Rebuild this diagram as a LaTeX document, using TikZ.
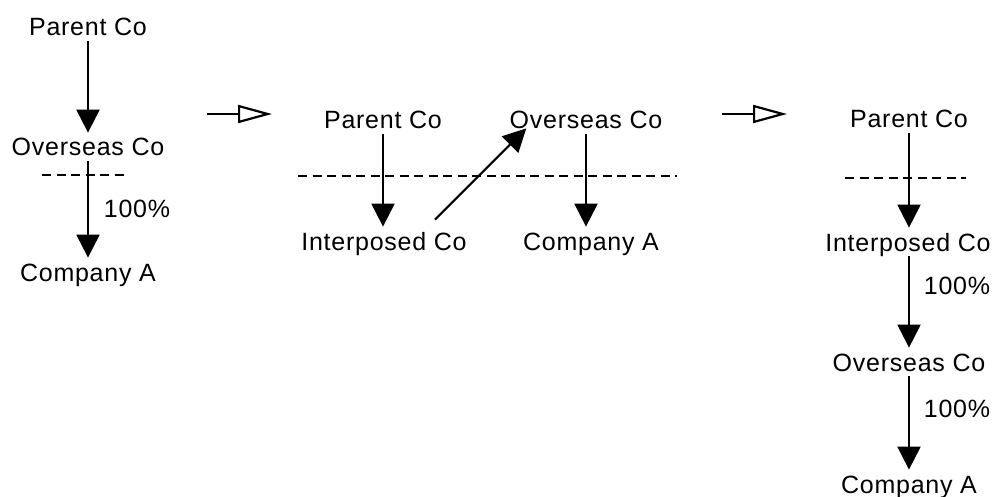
\documentclass[tikz,border=0pt]{standalone}
\usepackage{fontspec}
\setmainfont{Liberation Sans}[LetterSpace=3]
\usetikzlibrary{arrows.meta, calc}

\begin{document}
\begin{tikzpicture}[x=.5pt, y=-.5pt, font=\fontsize{12.5}{15}\selectfont,
    co/.style={inner sep=2.5pt, text height=9pt, text depth=0pt},
    own/.style={-{Triangle[length=11.5pt, width=11.5pt]}, line width=1.1pt},
    moveto/.style={-{Triangle[open, length=17pt, width=9pt]}, line width=1.1pt},
    cut/.style={line width=1pt, dash pattern=on 4.5pt off 2.75pt}]
\useasboundingbox (0,0) rectangle (995,497);

% before
\node[co] (pc1) at (88,27) {Parent Co};
\node[co] (oc1) at (88,147) {Overseas Co};
\node[co] (ca1) at (88,272) {Company A};
\node[co] (pct1) at (137,209) {100\%};
\draw[cut] (42,175)--(127,175);
\draw[own] (pc1)--(oc1);
\draw[own] (oc1)--(ca1);

\coordinate (s1) at (207,114);
\coordinate (t1) at (272,114);
\draw[moveto] (s1)--(t1);

% step
\node[co] (pc2) at (383,120) {Parent Co};
\node[co] (oc2) at (586,120) {Overseas Co};
\node[co] (ic2) at (384,241) {Interposed Co};
\node[co] (ca2) at (591,241) {Company A};
\draw[cut] (298,176)--(677,176);
\draw[own] (pc2.south)--(pc2.south |- ic2.north);
\draw[own] (oc2.south)--(oc2.south |- ca2.north);
\draw[own] ($(ic2.north)+(51,-7)$)--($(oc2.south west)+(22,-6)$);

\coordinate (s2) at (722,114);
\coordinate (t2) at (787,114);
\draw[moveto] (s2)--(t2);

% after
\node[co] (pc3) at (909,119) {Parent Co};
\node[co] (ic3) at (908,242) {Interposed Co};
\node[co] (oc3) at (909,362) {Overseas Co};
\node[co] (ca3) at (909,484) {Company A};
\node[co] (pct3) at (957,285) {100\%};
\node[co] (pct4) at (957,408) {100\%};
\draw[cut] (845,178)--(966,178);
\draw[own] (pc3.south)--(pc3.south |- ic3.north);
\draw[own] (pc3.south |- ic3.south)--(pc3.south |- oc3.north);
\draw[own] (pc3.south |- oc3.south)--(pc3.south |- ca3.north);

\end{tikzpicture}
\end{document}
